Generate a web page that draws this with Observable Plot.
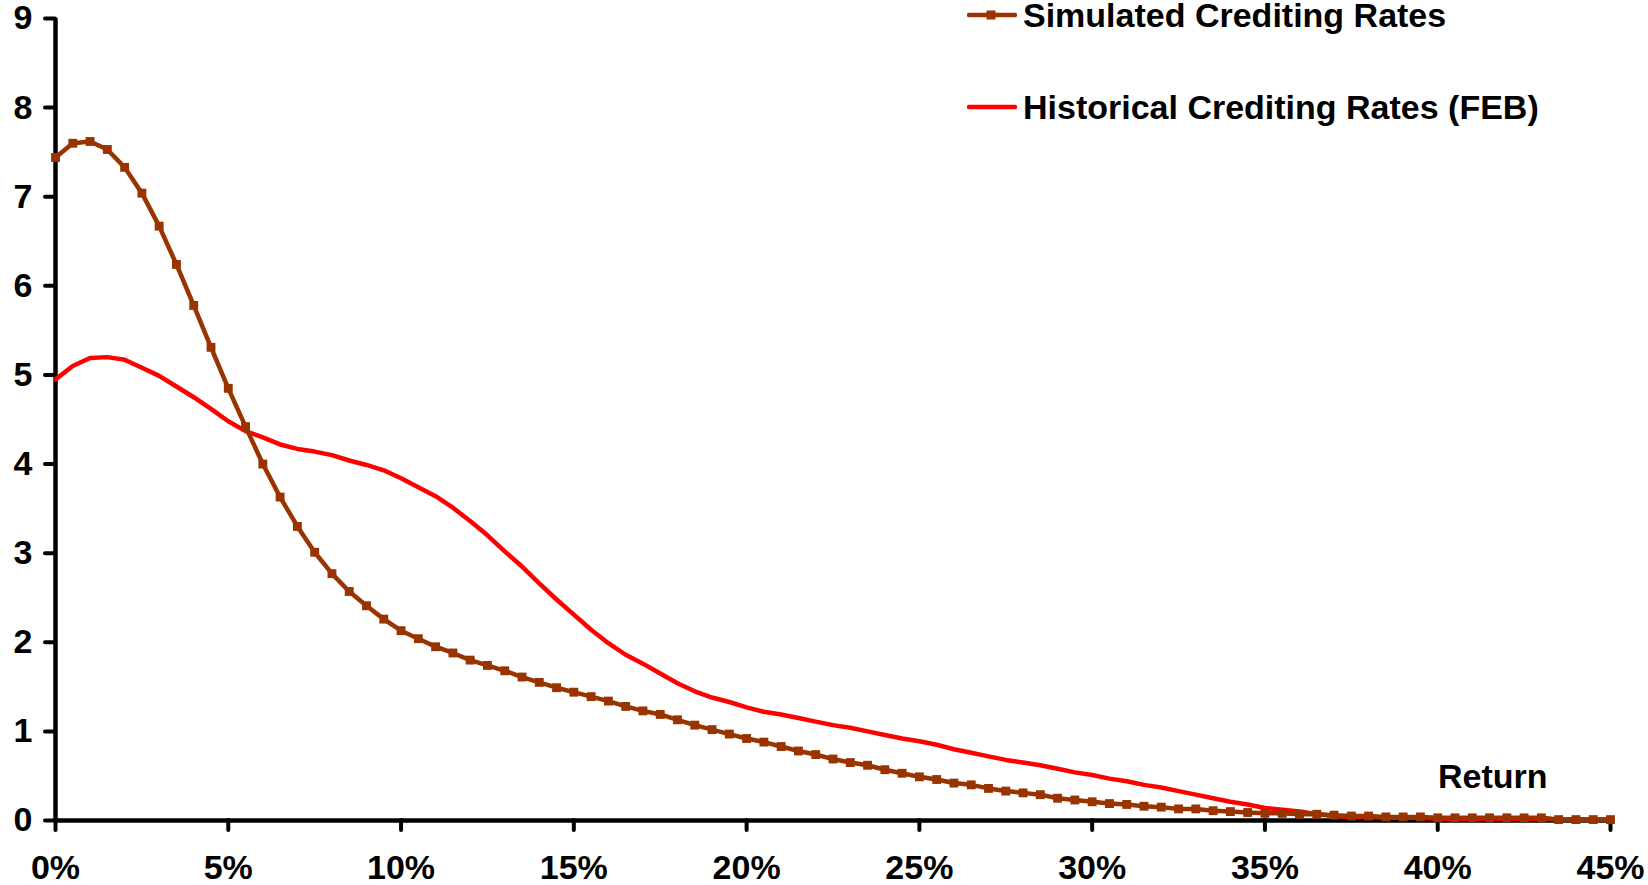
<!DOCTYPE html>
<html>
<head>
<meta charset="utf-8">
<script src="https://cdn.jsdelivr.net/npm/d3@7"></script>
<script src="https://cdn.jsdelivr.net/npm/@observablehq/plot@0.6"></script>
<style>
  html, body { margin: 0; padding: 0; background: #fff; }
  #wrap { position: relative; width: 1648px; height: 885px; overflow: hidden; }
  .legend { position: absolute; left: 0; top: 0; font-family: "Liberation Sans", Arial, sans-serif; font-weight: bold; font-size: 34px; line-height: 30px; color: #000; }
  .item { position: absolute; display: flex; align-items: center; white-space: nowrap; height: 30px; }
  .item svg { margin-right: 6px; display: block; }
</style>
</head>
<body>
<div id="wrap"></div>
<script>
// Return (%) grid
const returns = [0,0.5,1,1.5,2,2.5,3,3.5,4,4.5,5,5.5,6,6.5,7,7.5,8,8.5,9,9.5,10,10.5,11,11.5,12,12.5,13,13.5,14,14.5,15,15.5,16,16.5,17,17.5,18,18.5,19,19.5,20,20.5,21,21.5,22,22.5,23,23.5,24,24.5,25,25.5,26,26.5,27,27.5,28,28.5,29,29.5,30,30.5,31,31.5,32,32.5,33,33.5,34,34.5,35,35.5,36,36.5,37,37.5,38,38.5,39,39.5,40,40.5,41,41.5,42,42.5,43,43.5,44,44.5,45];

const simulated = [7.44,7.60,7.62,7.53,7.33,7.04,6.67,6.24,5.78,5.31,4.85,4.42,4.00,3.63,3.30,3.01,2.77,2.57,2.41,2.26,2.13,2.04,1.95,1.88,1.80,1.74,1.68,1.61,1.55,1.49,1.44,1.39,1.34,1.28,1.23,1.19,1.13,1.07,1.02,0.97,0.92,0.88,0.83,0.78,0.74,0.69,0.65,0.62,0.57,0.53,0.49,0.46,0.42,0.40,0.36,0.33,0.31,0.29,0.25,0.23,0.21,0.19,0.18,0.16,0.15,0.13,0.13,0.11,0.10,0.09,0.08,0.08,0.07,0.07,0.06,0.05,0.05,0.04,0.04,0.04,0.03,0.03,0.03,0.03,0.03,0.03,0.03,0.01,0.01,0.01,0.01];

const historical = [4.95,5.10,5.19,5.20,5.17,5.08,4.99,4.87,4.75,4.62,4.48,4.37,4.30,4.22,4.17,4.14,4.10,4.04,3.99,3.93,3.84,3.74,3.64,3.51,3.36,3.20,3.02,2.85,2.66,2.48,2.31,2.14,1.99,1.86,1.76,1.65,1.54,1.45,1.38,1.33,1.27,1.22,1.19,1.15,1.11,1.07,1.04,1.00,0.96,0.92,0.89,0.85,0.80,0.76,0.72,0.68,0.65,0.62,0.58,0.54,0.51,0.47,0.44,0.40,0.37,0.33,0.29,0.25,0.21,0.18,0.14,0.12,0.10,0.07,0.05,0.04,0.04,0.03,0.03,0.03,0.02,0.02,0.02,0.02,0.02,0.02,0.02,0.01,0.01,0.01,0.01];

const xTicks = [0,5,10,15,20,25,30,35,40,45];
const yTicks = [0,1,2,3,4,5,6,7,8,9];
const seriesNames = ["Simulated Crediting Rates", "Historical Crediting Rates (FEB)"];
const seriesColors = ["#993300", "#ff0000"];
const xAxisTitle = "Return";

const simData = returns.map((r, i) => ({r, v: simulated[i]}));
const histData = returns.map((r, i) => ({r, v: historical[i]}));

const FONT = '"Liberation Sans", Arial, sans-serif';

const chart = Plot.plot({
  width: 1648,
  height: 885,
  marginLeft: 55,
  marginRight: 38,
  marginTop: 18,
  marginBottom: 65,
  style: {fontFamily: FONT, fontWeight: "bold", background: "#fff", overflow: "visible", color: "#000"},
  x: {domain: [0, 45], ticks: xTicks, tickFormat: d => d + "%"},
  y: {domain: [0, 9], ticks: yTicks},
  marks: [
    Plot.axisY({ticks: yTicks, tickSize: 10, tickPadding: 13, fontSize: 34, fontWeight: "bold", strokeWidth: 4, strokeLinecap: "round", label: null}),
    Plot.axisX({ticks: xTicks, tickSize: 10, tickPadding: 24, fontSize: 34, fontWeight: "bold", strokeWidth: 4, strokeLinecap: "round", label: null, tickFormat: d => d + "%"}),
    Plot.ruleX([0], {stroke: "#000", strokeWidth: 4.5}),
    Plot.ruleY([0], {stroke: "#000", strokeWidth: 4.5}),
    Plot.line(histData, {x: "r", y: "v", stroke: seriesColors[1], strokeWidth: 4.5}),
    Plot.line(simData, {x: "r", y: "v", stroke: seriesColors[0], strokeWidth: 4.5}),
    Plot.dot(simData, {x: "r", y: "v", symbol: "square", r: 5, fill: seriesColors[0], stroke: "none"}),
    Plot.text([xAxisTitle], {frameAnchor: "bottom-right", text: d => d, dx: -63, dy: -33, textAnchor: "end", lineAnchor: "bottom", fontSize: 34, fontWeight: "bold", fill: "#000"})
  ]
});

const wrap = document.getElementById("wrap");
wrap.appendChild(chart);

// Legend overlay
const legend = document.createElement("div");
legend.className = "legend";
const items = [
  {name: seriesNames[0], color: seriesColors[0], marker: true, top: 0},
  {name: seriesNames[1], color: seriesColors[1], marker: false, top: 92}
];
items.forEach(it => {
  const d = document.createElement("div");
  d.className = "item";
  d.style.left = "967px";
  d.style.top = it.top + "px";
  const sw = `<svg width="50" height="14" viewBox="0 0 50 14"><line x1="2" y1="7" x2="48" y2="7" stroke="${it.color}" stroke-width="4.5" stroke-linecap="round"/>` +
    (it.marker ? `<rect x="19.5" y="2.5" width="9" height="9" fill="${it.color}"/>` : "") + `</svg>`;
  d.innerHTML = sw + `<span>${it.name}</span>`;
  legend.appendChild(d);
});
wrap.appendChild(legend);
</script>
</body>
</html>
